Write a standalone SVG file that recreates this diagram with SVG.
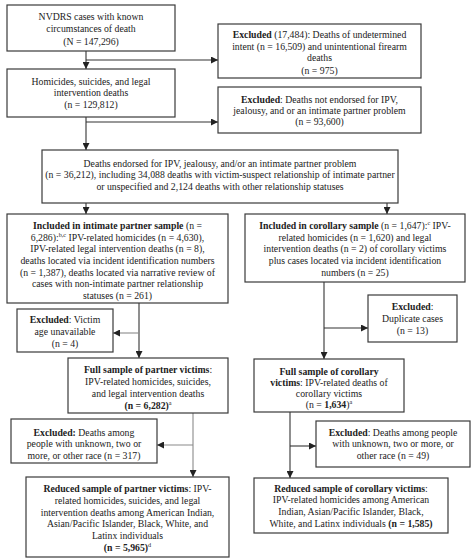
<svg xmlns="http://www.w3.org/2000/svg" width="474" height="559" viewBox="0 0 474 559">
<defs>
<style>
.box{fill:#fff;stroke:#3a3a3a;stroke-width:1.2}
text{font-family:"Liberation Serif","Times New Roman",serif;font-size:9.75px;fill:#222;text-anchor:middle}
.b{font-weight:bold}
.sup{font-size:6.2px}
.c{fill:none;stroke:#333;stroke-width:1.1}
.g{stroke:#8a8a8a}
</style>
<marker id="ah" markerUnits="userSpaceOnUse" markerWidth="7" markerHeight="7" refX="7" refY="3.5" orient="auto">
<path d="M0,0 L7,3.5 L0,7 Z" fill="#222"/>
</marker>
</defs>
<rect width="474" height="559" fill="#fff"/>
<g id="connectors">
<line class="c" x1="86" y1="51" x2="86" y2="69" marker-end="url(#ah)"/>
<line class="c" x1="86" y1="60" x2="218" y2="60" marker-end="url(#ah)"/>
<line class="c" x1="86" y1="117" x2="86" y2="150" marker-end="url(#ah)"/>
<line class="c" x1="86" y1="122" x2="218" y2="122" marker-end="url(#ah)"/>
<line class="c" x1="86" y1="203" x2="86" y2="214" marker-end="url(#ah)"/>
<line class="c" x1="387" y1="203" x2="387" y2="214" marker-end="url(#ah)"/>
<line class="c" x1="139" y1="303" x2="139" y2="358" marker-end="url(#ah)"/>
<line class="c g" x1="139" y1="333" x2="113" y2="333" marker-end="url(#ah)"/>
<line class="c" x1="324" y1="282" x2="324" y2="359" marker-end="url(#ah)"/>
<line class="c" x1="324" y1="328" x2="368" y2="328" marker-end="url(#ah)"/>
<line class="c g" x1="193" y1="413" x2="193" y2="477" marker-end="url(#ah)"/>
<line class="c g" x1="193" y1="445" x2="157" y2="445" marker-end="url(#ah)"/>
<line class="c" x1="290" y1="412" x2="290" y2="478" marker-end="url(#ah)"/>
<line class="c" x1="290" y1="446" x2="316" y2="446" marker-end="url(#ah)"/>
</g>
<g id="n-nvdrs">
<rect class="box" x="7" y="5" width="168" height="46"/>
<text x="91" y="19.5">NVDRS cases with known</text>
<text x="91" y="31.5">circumstances of death</text>
<text x="91" y="44.5">(N = 147,296)</text>
</g>
<g id="n-homicides">
<rect class="box" x="7" y="69" width="168" height="48"/>
<text x="91" y="84.5">Homicides, suicides, and legal</text>
<text x="91" y="95.5">intervention deaths</text>
<text x="91" y="107.5">(n = 129,812)</text>
</g>
<g id="n-excluded1">
<rect class="box" x="218" y="24" width="203" height="54"/>
<text x="319.5" y="37.5"><tspan class="b">Excluded</tspan> (17,484): Deaths of undetermined</text>
<text x="319.5" y="49.5">intent (n = 16,509) and unintentional firearm</text>
<text x="319.5" y="61">deaths</text>
<text x="319.5" y="74">(n = 975)</text>
</g>
<g id="n-excluded2">
<rect class="box" x="218" y="87" width="203" height="46"/>
<text x="319.5" y="102.5"><tspan class="b">Excluded</tspan>: Deaths not endorsed for IPV,</text>
<text x="319.5" y="113.5">jealousy, and or an intimate partner problem</text>
<text x="319.5" y="124.5">(n = 93,600)</text>
</g>
<g id="n-endorsed">
<rect class="box" x="42" y="150" width="356" height="53"/>
<text x="220" y="166.5">Deaths endorsed for IPV, jealousy, and/or an intimate partner problem</text>
<text x="220" y="178">(n = 36,212), including 34,088 deaths with victim-suspect relationship of intimate partner</text>
<text x="220" y="189.5">or unspecified and 2,124 deaths with other relationship statuses</text>
</g>
<g id="n-intimate">
<rect class="box" x="7" y="214" width="221" height="89"/>
<text x="117.5" y="228.5"><tspan class="b">Included in intimate partner sample</tspan> (n =</text>
<text x="117.5" y="240.5">6,286):<tspan class="sup" dy="-3.5">b,c</tspan><tspan dy="3.5"> IPV-related homicides (n = 4,630),</tspan></text>
<text x="117.5" y="251.5">IPV-related legal intervention deaths (n = 8),</text>
<text x="117.5" y="263.5">deaths located via incident identification numbers</text>
<text x="117.5" y="275.5">(n = 1,387), deaths located via narrative review of</text>
<text x="117.5" y="286.5">cases with non-intimate partner relationship</text>
<text x="117.5" y="298.5">statuses (n = 261)</text>
</g>
<g id="n-corollary">
<rect class="box" x="245" y="214" width="220" height="68"/>
<text x="355" y="228.5"><tspan class="b">Included in corollary sample</tspan> (n = 1,647):<tspan class="sup" dy="-3.5">c</tspan><tspan dy="3.5"> IPV-</tspan></text>
<text x="355" y="240.5">related homicides (n = 1,620) and legal</text>
<text x="355" y="251.5">intervention deaths (n = 2) of corollary victims</text>
<text x="355" y="263.5">plus cases located via incident identification</text>
<text x="355" y="275.5">numbers (n = 25)</text>
</g>
<g id="n-excl-age">
<rect class="box" x="17" y="309" width="96" height="43"/>
<text x="65" y="322.5"><tspan class="b">Excluded</tspan>: Victim</text>
<text x="65" y="334.5">age unavailable</text>
<text x="65" y="346.5">(n = 4)</text>
</g>
<g id="n-excl-dup">
<rect class="box" x="368" y="295" width="89" height="47"/>
<text x="412.5" y="309.5"><tspan class="b">Excluded</tspan>:</text>
<text x="412.5" y="321.5">Duplicate cases</text>
<text x="412.5" y="333.5">(n = 13)</text>
</g>
<g id="n-full-partner">
<rect class="box" x="68" y="358" width="160" height="55"/>
<text x="148" y="372.5"><tspan class="b">Full sample of partner victims</tspan>:</text>
<text x="148" y="385">IPV-related homicides, suicides,</text>
<text x="148" y="396.5">and legal intervention deaths</text>
<text x="148" y="408.5"><tspan class="b">(n = 6,282)</tspan><tspan class="sup" dy="-3.5">a</tspan></text>
</g>
<g id="n-full-corollary">
<rect class="box" x="254" y="359" width="150" height="53"/>
<text x="329" y="374.5" class="b">Full sample of corollary</text>
<text x="329" y="385.5"><tspan class="b">victims</tspan>: IPV-related deaths of</text>
<text x="329" y="396.5">corollary victims</text>
<text x="329" y="407.5">(n = <tspan class="b">1,634</tspan>)<tspan class="sup" dy="-3.5">a</tspan></text>
</g>
<g id="n-excl-race-left">
<rect class="box" x="11" y="419" width="146" height="44"/>
<text x="84" y="435.5"><tspan class="b">Excluded:</tspan> Deaths among</text>
<text x="84" y="446.5">people with unknown, two or</text>
<text x="84" y="458.5">more, or other race (n = 317)</text>
</g>
<g id="n-excl-race-right">
<rect class="box" x="316" y="421" width="154" height="46"/>
<text x="393" y="435.5"><tspan class="b">Excluded</tspan>: Deaths among people</text>
<text x="393" y="446.5">with unknown, two or more, or</text>
<text x="393" y="458.5">other race (n = 49)</text>
</g>
<g id="n-reduced-partner">
<rect class="box" x="26" y="477" width="203" height="80"/>
<text x="127.5" y="491.5"><tspan class="b">Reduced sample of partner victims</tspan>: IPV-</text>
<text x="127.5" y="503.5">related homicides, suicides, and legal</text>
<text x="127.5" y="515.5">intervention deaths among American Indian,</text>
<text x="127.5" y="526.5">Asian/Pacific Islander, Black, White, and</text>
<text x="127.5" y="538.5">Latinx individuals</text>
<text x="127.5" y="550.5"><tspan class="b">(n = 5,965)</tspan><tspan class="sup" dy="-3.5">d</tspan></text>
</g>
<g id="n-reduced-corollary">
<rect class="box" x="254" y="478" width="194" height="55"/>
<text x="351" y="491.5"><tspan class="b">Reduced sample of corollary victims</tspan>:</text>
<text x="351" y="502.5">IPV-related homicides among American</text>
<text x="351" y="514.5">Indian, Asian/Pacific Islander, Black,</text>
<text x="351" y="526.5">White, and Latinx individuals <tspan class="b">(n = 1,585)</tspan></text>
</g>
</svg>
